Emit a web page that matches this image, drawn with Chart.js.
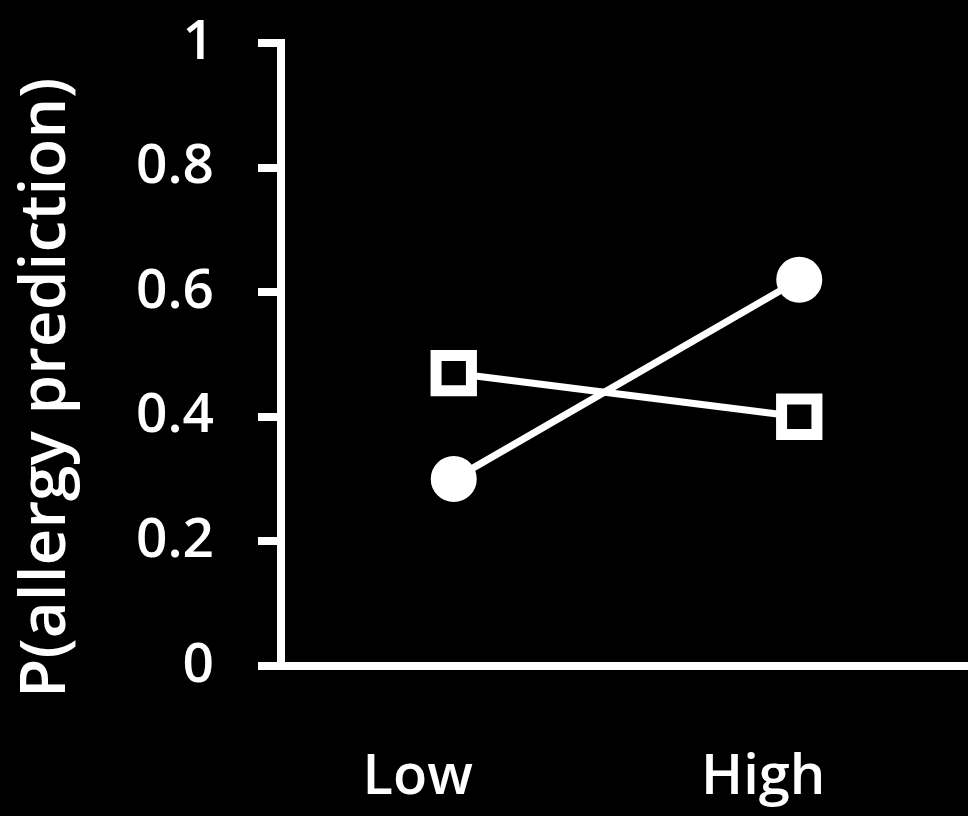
<!DOCTYPE html>
<html>
<head>
<meta charset="utf-8">
<script src="https://cdn.jsdelivr.net/npm/chart.js@4.4.1/dist/chart.umd.min.js"></script>
<style>
  html, body { margin: 0; padding: 0; background: #000; overflow: hidden; }
  canvas { display: block; }
</style>
</head>
<body>
<canvas id="allergyChart" width="972" height="816"></canvas>
<script>
// data
const categories = ['Low', 'High'];
const circleValues = [0.30, 0.62];
const squareValues = [0.47, 0.40];
const yTickLabels = ['0', '0.2', '0.4', '0.6', '0.8', '1'];

const fontFamily = '"Open Sans", "Noto Sans", sans-serif';

const config = {
    type: 'line',
    data: {
        labels: categories,
        datasets: [{
            label: 'Circles',
            data: circleValues,
            borderColor: '#fff',
            borderWidth: 7,
            pointStyle: 'circle',
            pointRadius: 22,
            pointBackgroundColor: '#fff',
            pointBorderColor: '#fff',
            pointBorderWidth: 2
        }, {
            label: 'Squares',
            data: squareValues,
            borderColor: '#fff',
            borderWidth: 7,
            pointStyle: 'rect',
            pointRadius: 25,
            pointBackgroundColor: '#000',
            pointBorderColor: '#fff',
            pointBorderWidth: 11
        }]
    },
    options: {
        responsive: false,
        animation: false,
        layout: {
            autoPadding: false,
            padding: { top: 43, right: 0, bottom: 0, left: 0 }
        },
        plugins: {
            legend: { display: false },
            tooltip: { enabled: false }
        },
        scales: {
            x: {
                offset: true,
                grid: { display: false, drawTicks: false },
                border: { display: true, color: '#fff', width: 8 },
                ticks: {
                    color: '#fff',
                    padding: 78,
                    labelOffset: -36,
                    font: { family: fontFamily, size: 56, weight: '600' }
                },
                afterFit: (scale) => {
                    scale.height = 150;
                    scale.paddingLeft = 0;
                    scale.paddingRight = 0;
                }
            },
            y: {
                min: 0,
                max: 1,
                grid: {
                    drawOnChartArea: false,
                    drawTicks: true,
                    tickLength: 23,
                    lineWidth: 8,
                    tickWidth: 8,
                    tickColor: '#fff'
                },
                border: { display: true, color: '#fff', width: 8 },
                ticks: {
                    stepSize: 0.2,
                    color: '#fff',
                    padding: 44,
                    font: { family: fontFamily, size: 55, weight: '600' },
                    callback: (value, index) => yTickLabels[index]
                },
                title: {
                    display: true,
                    // trailing spaces nudge the rotated title down, like the original
                    text: 'P(allergy prediction)    ',
                    color: '#fff',
                    font: { family: fontFamily, size: 64, weight: '600' },
                    padding: { top: 8, bottom: 0 }
                },
                afterFit: (scale) => {
                    scale.width = 281;
                    scale.paddingTop = 0;
                    scale.paddingBottom = 0;
                }
            }
        }
    }
};

new Chart(document.getElementById('allergyChart').getContext('2d'), config);
</script>
</body>
</html>
